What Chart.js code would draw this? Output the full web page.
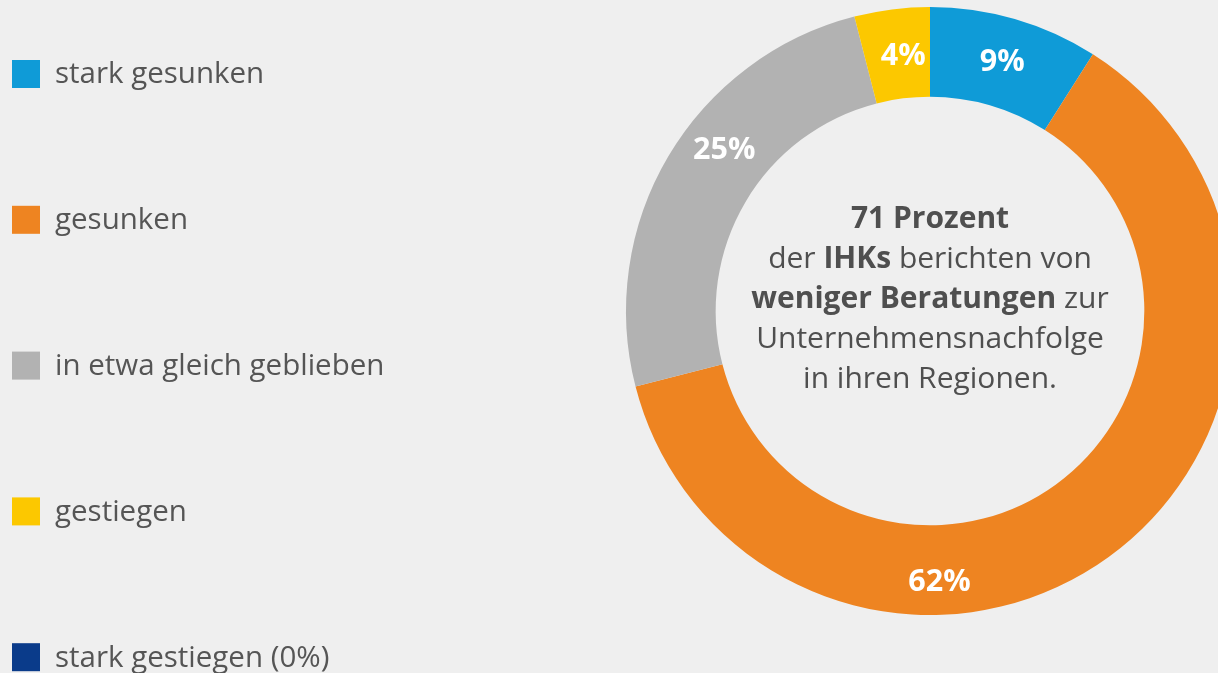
<!DOCTYPE html>
<html>
<head>
<meta charset="utf-8">
<script src="https://cdn.jsdelivr.net/npm/chart.js@4.4.1/dist/chart.umd.min.js"></script>
<style>
  html, body { margin: 0; padding: 0; background: #efefef; overflow: hidden; }
  #wrap { position: relative; width: 1218px; height: 673px; overflow: hidden; }
  #wrap canvas { position: absolute; left: 0; top: 0; }
</style>
</head>
<body>
<div id="wrap"><canvas id="chart" width="1240" height="673"></canvas></div>
<script>
// Ergebnisse der IHK-Umfrage: Beratungen zur Unternehmensnachfolge
const categories = ['stark gesunken', 'gesunken', 'in etwa gleich geblieben', 'gestiegen', 'stark gestiegen (0%)'];
const shares = [9, 62, 25, 4, 0];
const shareLabels = ['9%', '62%', '25%', '4%', ''];
const colors = ['#0f9bd7', '#ee8421', '#b2b2b2', '#fcc800', '#0a3b8a'];
const centerLines = [
    [['71 Prozent', true]],
    [['der ', false], ['IHKs', true], [' berichten von', false]],
    [['weniger Beratungen', true], [' zur', false]],
    [['Unternehmensnachfolge', false]],
    [['in ihren Regionen.', false]]
];

const FONT = "'Open Sans', sans-serif";

// Legend drawn on the left, one row per category
const sideLegend = {
    id: 'sideLegend',
    afterDraw(chart, args, opts) {
        const ctx = chart.ctx;
        const ds = chart.data.datasets[0];
        ctx.save();
        ctx.font = `${opts.size}px ${FONT}`;
        ctx.textBaseline = 'middle';
        ctx.textAlign = 'left';
        chart.data.labels.forEach((label, i) => {
            const y = opts.top + i * opts.step;
            ctx.fillStyle = ds.backgroundColor[i];
            ctx.fillRect(opts.x, y - opts.box / 2, opts.box, opts.box);
            ctx.fillStyle = '#555555';
            ctx.fillText(label, opts.textX, y + 1);
        });
        ctx.restore();
    }
};

// White percentage labels on the ring
const sliceLabels = {
    id: 'sliceLabels',
    afterDatasetsDraw(chart, args, opts) {
        const ctx = chart.ctx;
        const meta = chart.getDatasetMeta(0);
        ctx.save();
        ctx.font = `bold ${opts.size}px ${FONT}`;
        ctx.fillStyle = '#ffffff';
        ctx.textAlign = 'center';
        ctx.textBaseline = 'middle';
        meta.data.forEach((arc, i) => {
            const text = shareLabels[i];
            if (!text) return;
            const p = arc.getProps(['x', 'y', 'startAngle', 'endAngle', 'innerRadius', 'outerRadius'], true);
            let a = (p.startAngle + p.endAngle) / 2;
            if (opts.angles[i] != null) a = (opts.angles[i] - 90) * Math.PI / 180;
            const r = (p.innerRadius + p.outerRadius) / 2 + (opts.shift[i] || 0);
            ctx.fillText(text, p.x + r * Math.cos(a), p.y + r * Math.sin(a));
        });
        ctx.restore();
    }
};

// Text in the middle of the doughnut, mixing bold and regular runs
const centerText = {
    id: 'centerText',
    afterDraw(chart, args, opts) {
        const ctx = chart.ctx;
        const arc = chart.getDatasetMeta(0).data[0];
        const cx = arc.x;
        ctx.save();
        ctx.fillStyle = '#4f4f4f';
        ctx.textBaseline = 'alphabetic';
        ctx.textAlign = 'left';
        centerLines.forEach((runs, li) => {
            const y = opts.firstBaseline + li * opts.lineGap;
            let total = 0;
            runs.forEach(([t, b]) => {
                ctx.font = `${b ? 'bold ' : ''}${opts.size}px ${FONT}`;
                total += ctx.measureText(t).width;
            });
            let x = cx - total / 2;
            runs.forEach(([t, b]) => {
                ctx.font = `${b ? 'bold ' : ''}${opts.size}px ${FONT}`;
                ctx.fillText(t, x, y);
                x += ctx.measureText(t).width;
            });
        });
        ctx.restore();
    }
};

new Chart(document.getElementById('chart'), {
    type: 'doughnut',
    data: {
        labels: categories,
        datasets: [{
            data: shares,
            backgroundColor: colors,
            borderWidth: 0,
            hoverOffset: 0
        }]
    },
    options: {
        responsive: false,
        animation: false,
        cutout: '70.5%',
        layout: {
            padding: { left: 626, right: 6, top: 7, bottom: 58 }
        },
        plugins: {
            legend: { display: false },
            tooltip: { enabled: false },
            sideLegend: { x: 12, textX: 55, box: 28, top: 74, step: 145.8, size: 29.5 },
            sliceLabels: { size: 30.5, angles: [null, 178, 308, 354, null], shift: [0, 12, 2, -3, 0] },
            centerText: { size: 30, firstBaseline: 228, lineGap: 40 }
        }
    },
    plugins: [sideLegend, sliceLabels, centerText]
});
</script>
</body>
</html>
